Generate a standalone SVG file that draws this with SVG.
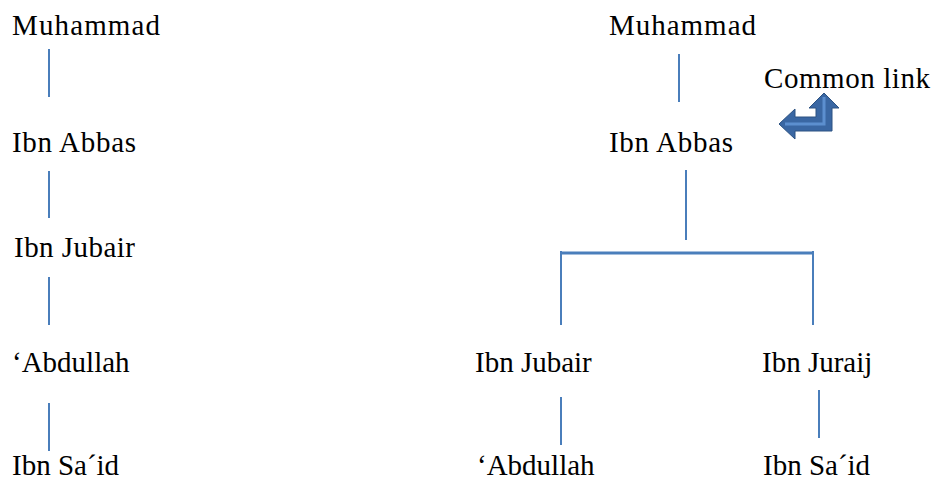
<svg xmlns="http://www.w3.org/2000/svg" width="935" height="480" viewBox="0 0 935 480">
<style>
.t{font-family:'Liberation Serif','Times New Roman','DejaVu Serif',serif;font-size:29px;fill:#000}
.c{stroke:#4a7ebb;stroke-width:2;fill:none}
</style>
<rect width="935" height="480" fill="#fff"/>
<g id="connectors">
<line class="c" x1="49" y1="49" x2="49" y2="97"/>
<line class="c" x1="49" y1="171" x2="49" y2="218"/>
<line class="c" x1="49" y1="277" x2="49" y2="325"/>
<line class="c" x1="49" y1="403" x2="49" y2="451"/>
<line class="c" x1="679" y1="54" x2="679" y2="102"/>
<line class="c" x1="686" y1="170" x2="686" y2="240"/>
<line class="c" x1="561" y1="253" x2="813" y2="253" style="stroke-width:3"/>
<line class="c" x1="561" y1="251" x2="561" y2="325"/>
<line class="c" x1="813" y1="251" x2="813" y2="325"/>
<line class="c" x1="561" y1="397" x2="561" y2="445"/>
<line class="c" x1="819" y1="390" x2="819" y2="438"/>
</g>
<g id="l-muhammad"><text class="t" x="12" y="35" textLength="148">Muhammad</text></g>
<g id="l-ibnabbas"><text class="t" x="12" y="152" textLength="124">Ibn Abbas</text></g>
<g id="l-ibnjubair"><text class="t" x="14" y="257" textLength="121">Ibn Jubair</text></g>
<g id="l-abdullah"><text class="t" x="12" y="372">‘Abdullah</text></g>
<g id="l-ibnsaid"><text class="t" x="12" y="475">Ibn Sa´id</text></g>
<g id="r-muhammad"><text class="t" x="609" y="35" textLength="147">Muhammad</text></g>
<g id="r-ibnabbas"><text class="t" x="609" y="152" textLength="124">Ibn Abbas</text></g>
<g id="r-ibnjubair"><text class="t" x="475" y="372">Ibn Jubair</text></g>
<g id="r-ibnjuraij"><text class="t" x="762" y="372">Ibn Juraij</text></g>
<g id="r-abdullah"><text class="t" x="477" y="475">‘Abdullah</text></g>
<g id="r-ibnsaid"><text class="t" x="763" y="475">Ibn Sa´id</text></g>
<g id="common-link">
<text class="t" x="764" y="88" textLength="166">Common link</text>
<polygon points="824,93 839,108 832,108 832,131 795,131 795,139 779,124 795,109 795,117 816,117 816,108 809,108" fill="#3a67a3" stroke="#2c5282" stroke-width="1"/>
<polyline points="824,97 824,124 785,124" fill="none" stroke="#5c8fcf" stroke-width="3"/>
</g>
</svg>
